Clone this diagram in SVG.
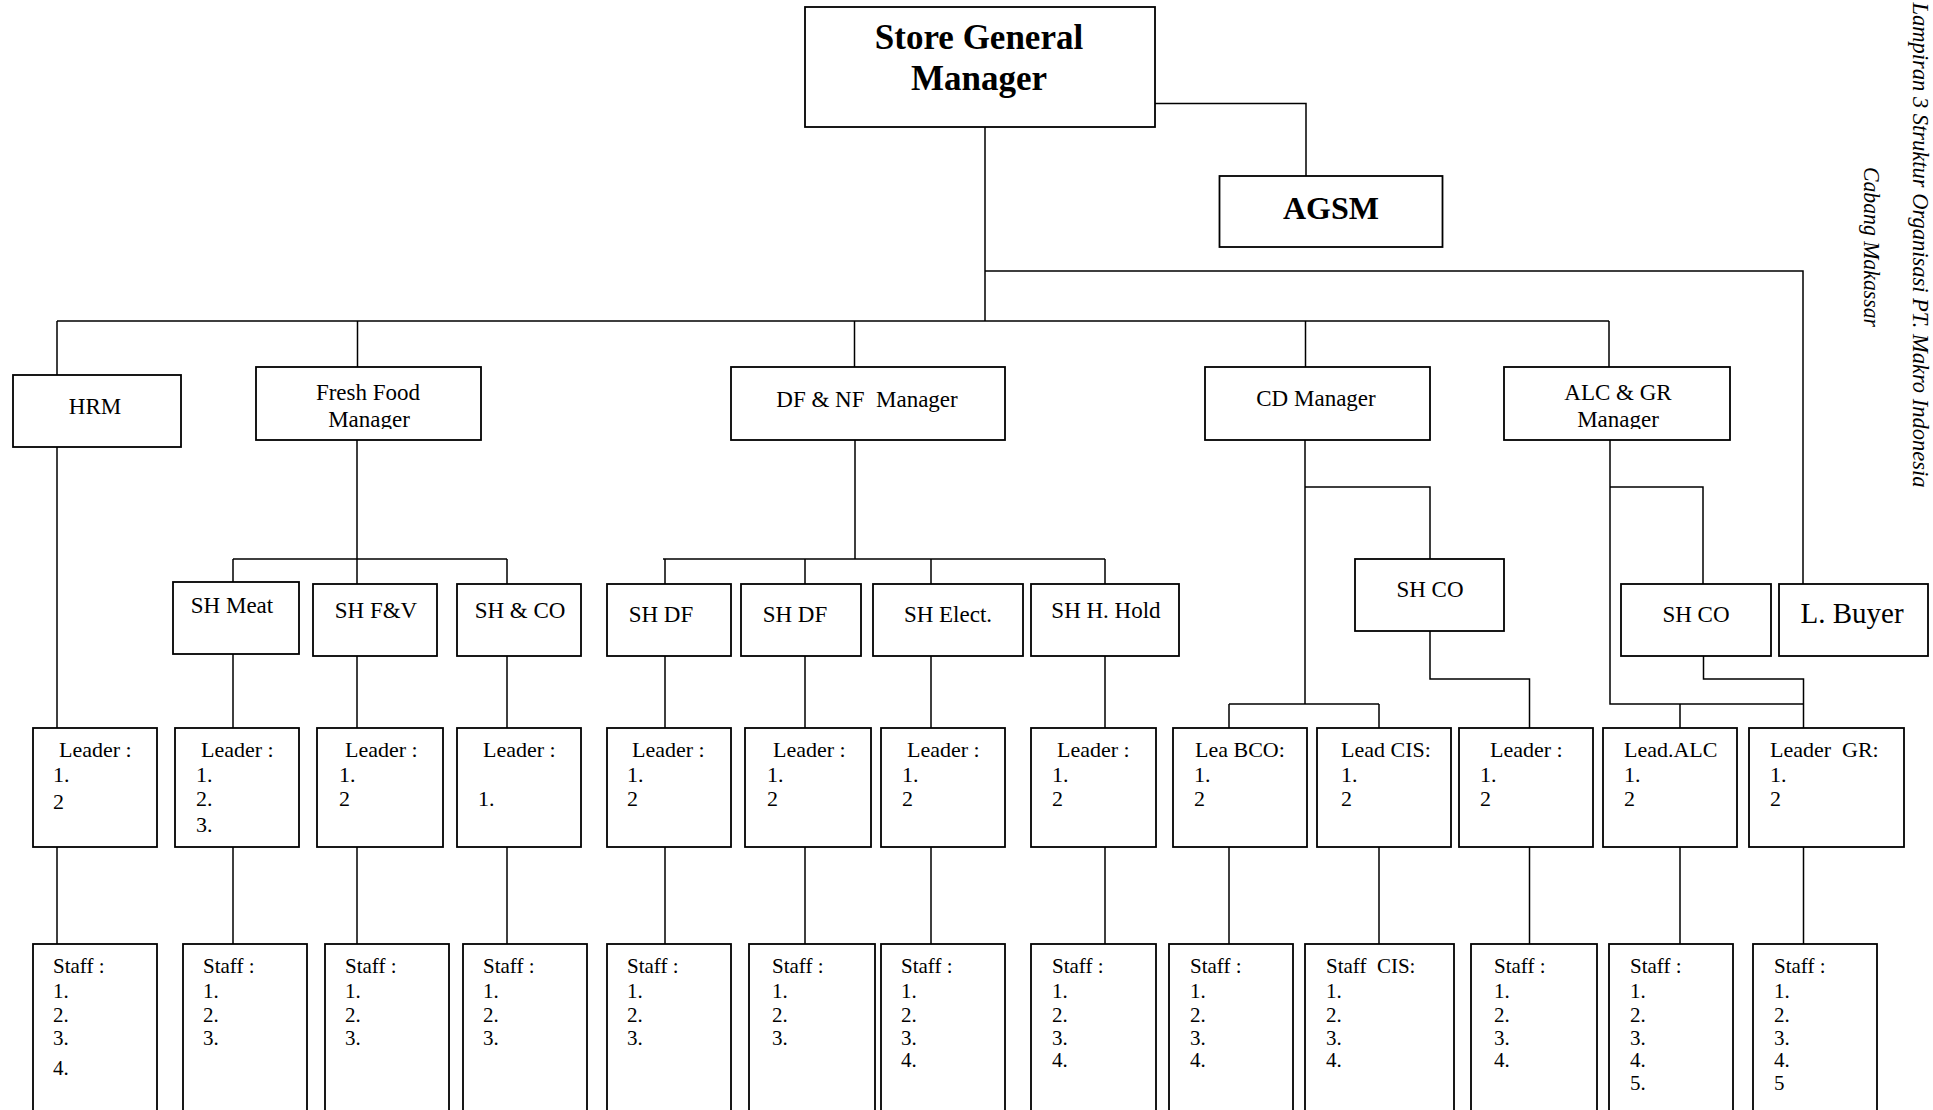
<svg xmlns="http://www.w3.org/2000/svg" width="1933" height="1110" viewBox="0 0 1933 1110">
<style>
.bx{fill:#fff;stroke:#000;stroke-width:1.8}
.cn{fill:none;stroke:#000;stroke-width:1.5}
text{font-family:"Liberation Serif","Times New Roman",serif;fill:#000;white-space:pre}
.c{text-anchor:middle}
.m{font-size:23px}
.sh{font-size:23px}
.l{font-size:22px}
.s{font-size:21px}
.b{font-weight:bold}
.rot{font-style:italic;font-size:24px}
</style>
<defs>
<clipPath id="clipFF"><rect x="256" y="367" width="225" height="62"/></clipPath>
<clipPath id="clipALC"><rect x="1504" y="367" width="226" height="62"/></clipPath>
</defs>
<rect width="1933" height="1110" fill="#fff"/>

<g id="connectors">
<path class="cn" d="M985 127V321M1155 103.5H1306V176M985 271H1803V584M57 321H1609M57 321V375M357.5 321V367M854.5 321V367M1305.5 321V367M1609 321V367"/>
<path class="cn" d="M57 447V728M357 440V559M233 559H507M233 559V582M357 559V584M507 559V584"/>
<path class="cn" d="M855 440V559M663 559H1105M665 559V584M805 559V584M931 559V584M1105 559V584"/>
<path class="cn" d="M1305 440V704M1229 704H1379M1229 704V728M1379 704V728M1305 487H1430V559M1430 631V679H1529.5V728"/>
<path class="cn" d="M1610 440V704H1803.5M1680 704V728M1610 487H1703V584M1703.5 656V679H1803.5V728"/>
<path class="cn" d="M233 654V728M357 656V728M507 656V728M665 656V728M805 656V728M931 656V728M1105 656V728"/>
<path class="cn" d="M57 847V944M233 847V944M357 847V944M507 847V944M665 847V944M805 847V944M931 847V944M1105 847V944M1229 847V944M1379 847V944M1529.5 847V944M1680 847V944M1803.5 847V944"/>
</g>

<g id="sgm"><rect class="bx" x="805" y="7" width="350" height="120"/>
<text class="b c" x="979" y="49" font-size="35">Store General</text>
<text class="b c" x="979" y="90" font-size="35">Manager</text></g>
<g id="agsm"><rect class="bx" x="1219.5" y="176" width="223" height="71"/>
<text class="b c" x="1331" y="219" font-size="32">AGSM</text></g>

<g id="hrm"><rect class="bx" x="13" y="375" width="168" height="72"/><text class="m c" x="95" y="414">HRM</text></g>
<g id="freshfood"><rect class="bx" x="256" y="367" width="225" height="73"/>
<g clip-path="url(#clipFF)"><text class="m c" x="368" y="400">Fresh Food</text><text class="m c" x="369" y="427">Manager</text></g></g>
<g id="dfnf"><rect class="bx" x="731" y="367" width="274" height="73"/><text class="m c" x="867" y="407">DF &amp; NF  Manager</text></g>
<g id="cd"><rect class="bx" x="1205" y="367" width="225" height="73"/><text class="m c" x="1316" y="406">CD Manager</text></g>
<g id="alcgr"><rect class="bx" x="1504" y="367" width="226" height="73"/>
<g clip-path="url(#clipALC)"><text class="m c" x="1618" y="400">ALC &amp; GR</text><text class="m c" x="1618" y="427">Manager</text></g></g>

<g id="shmeat"><rect class="bx" x="173" y="582" width="126" height="72"/><text class="sh c" x="232" y="613" font-size="22">SH Meat</text></g>
<g id="shfv"><rect class="bx" x="313" y="584" width="124" height="72"/><text class="sh c" x="376" y="618">SH F&amp;V</text></g>
<g id="shco1"><rect class="bx" x="457" y="584" width="124" height="72"/><text class="sh c" x="520" y="618">SH &amp; CO</text></g>
<g id="shdf1"><rect class="bx" x="607" y="584" width="124" height="72"/><text class="sh c" x="661" y="622">SH DF</text></g>
<g id="shdf2"><rect class="bx" x="741" y="584" width="120" height="72"/><text class="sh c" x="795" y="622">SH DF</text></g>
<g id="shelect"><rect class="bx" x="873" y="584" width="150" height="72"/><text class="sh c" x="948" y="622">SH Elect.</text></g>
<g id="shhhold"><rect class="bx" x="1031" y="584" width="148" height="72"/><text class="sh c" x="1106" y="618">SH H. Hold</text></g>
<g id="shcocd"><rect class="bx" x="1355" y="559" width="149" height="72"/><text class="sh c" x="1430" y="597">SH CO</text></g>
<g id="shcoalc"><rect class="bx" x="1621" y="584" width="150" height="72"/><text class="sh c" x="1696" y="622">SH CO</text></g>
<g id="lbuyer"><rect class="bx" x="1779" y="584" width="149" height="72"/><text class="c" x="1852" y="623" font-size="29">L. Buyer</text></g>

<g id="ld-hrm"><rect class="bx" x="33" y="728" width="124" height="119"/><text class="l" x="59" y="757">Leader :</text><text class="l" x="53" y="782">1.</text><text class="l" x="53" y="809">2</text></g>
<g id="ld-meat"><rect class="bx" x="175" y="728" width="124" height="119"/><text class="l" x="201" y="757">Leader :</text><text class="l" x="196" y="782">1.</text><text class="l" x="196" y="806">2.</text><text class="l" x="196" y="832">3.</text></g>
<g id="ld-fv"><rect class="bx" x="317" y="728" width="126" height="119"/><text class="l" x="345" y="757">Leader :</text><text class="l" x="339" y="782">1.</text><text class="l" x="339" y="806">2</text></g>
<g id="ld-co"><rect class="bx" x="457" y="728" width="124" height="119"/><text class="l" x="483" y="757">Leader :</text><text class="l" x="478" y="806">1.</text></g>
<g id="ld-df1"><rect class="bx" x="607" y="728" width="124" height="119"/><text class="l" x="632" y="757">Leader :</text><text class="l" x="627" y="782">1.</text><text class="l" x="627" y="806">2</text></g>
<g id="ld-df2"><rect class="bx" x="745" y="728" width="126" height="119"/><text class="l" x="773" y="757">Leader :</text><text class="l" x="767" y="782">1.</text><text class="l" x="767" y="806">2</text></g>
<g id="ld-elect"><rect class="bx" x="881" y="728" width="124" height="119"/><text class="l" x="907" y="757">Leader :</text><text class="l" x="902" y="782">1.</text><text class="l" x="902" y="806">2</text></g>
<g id="ld-hhold"><rect class="bx" x="1031" y="728" width="125" height="119"/><text class="l" x="1057" y="757">Leader :</text><text class="l" x="1052" y="782">1.</text><text class="l" x="1052" y="806">2</text></g>
<g id="ld-bco"><rect class="bx" x="1173" y="728" width="134" height="119"/><text class="l" x="1195" y="757">Lea BCO:</text><text class="l" x="1194" y="782">1.</text><text class="l" x="1194" y="806">2</text></g>
<g id="ld-cis"><rect class="bx" x="1317" y="728" width="134" height="119"/><text class="l" x="1341" y="757">Lead CIS:</text><text class="l" x="1341" y="782">1.</text><text class="l" x="1341" y="806">2</text></g>
<g id="ld-shco"><rect class="bx" x="1459" y="728" width="134" height="119"/><text class="l" x="1490" y="757">Leader :</text><text class="l" x="1480" y="782">1.</text><text class="l" x="1480" y="806">2</text></g>
<g id="ld-alc"><rect class="bx" x="1603" y="728" width="134" height="119"/><text class="l" x="1624" y="757">Lead.ALC</text><text class="l" x="1624" y="782">1.</text><text class="l" x="1624" y="806">2</text></g>
<g id="ld-gr"><rect class="bx" x="1749" y="728" width="155" height="119"/><text class="l" x="1770" y="757">Leader  GR:</text><text class="l" x="1770" y="782">1.</text><text class="l" x="1770" y="806">2</text></g>

<g id="st-hrm"><rect class="bx" x="33" y="944" width="124" height="180"/><text class="s" x="53" y="973">Staff :</text><text class="s" x="53" y="998">1.</text><text class="s" x="53" y="1022">2.</text><text class="s" x="53" y="1045">3.</text><text class="s" x="53" y="1075">4.</text></g>
<g id="st-meat"><rect class="bx" x="183" y="944" width="124" height="180"/><text class="s" x="203" y="973">Staff :</text><text class="s" x="203" y="998">1.</text><text class="s" x="203" y="1022">2.</text><text class="s" x="203" y="1045">3.</text></g>
<g id="st-fv"><rect class="bx" x="325" y="944" width="124" height="180"/><text class="s" x="345" y="973">Staff :</text><text class="s" x="345" y="998">1.</text><text class="s" x="345" y="1022">2.</text><text class="s" x="345" y="1045">3.</text></g>
<g id="st-co"><rect class="bx" x="463" y="944" width="124" height="180"/><text class="s" x="483" y="973">Staff :</text><text class="s" x="483" y="998">1.</text><text class="s" x="483" y="1022">2.</text><text class="s" x="483" y="1045">3.</text></g>
<g id="st-df1"><rect class="bx" x="607" y="944" width="124" height="180"/><text class="s" x="627" y="973">Staff :</text><text class="s" x="627" y="998">1.</text><text class="s" x="627" y="1022">2.</text><text class="s" x="627" y="1045">3.</text></g>
<g id="st-df2"><rect class="bx" x="749" y="944" width="126" height="180"/><text class="s" x="772" y="973">Staff :</text><text class="s" x="772" y="998">1.</text><text class="s" x="772" y="1022">2.</text><text class="s" x="772" y="1045">3.</text></g>
<g id="st-elect"><rect class="bx" x="881" y="944" width="124" height="180"/><text class="s" x="901" y="973">Staff :</text><text class="s" x="901" y="998">1.</text><text class="s" x="901" y="1022">2.</text><text class="s" x="901" y="1045">3.</text><text class="s" x="901" y="1067">4.</text></g>
<g id="st-hhold"><rect class="bx" x="1031" y="944" width="125" height="180"/><text class="s" x="1052" y="973">Staff :</text><text class="s" x="1052" y="998">1.</text><text class="s" x="1052" y="1022">2.</text><text class="s" x="1052" y="1045">3.</text><text class="s" x="1052" y="1067">4.</text></g>
<g id="st-bco"><rect class="bx" x="1169" y="944" width="124" height="180"/><text class="s" x="1190" y="973">Staff :</text><text class="s" x="1190" y="998">1.</text><text class="s" x="1190" y="1022">2.</text><text class="s" x="1190" y="1045">3.</text><text class="s" x="1190" y="1067">4.</text></g>
<g id="st-cis"><rect class="bx" x="1305" y="944" width="149" height="180"/><text class="s" x="1326" y="973">Staff  CIS:</text><text class="s" x="1326" y="998">1.</text><text class="s" x="1326" y="1022">2.</text><text class="s" x="1326" y="1045">3.</text><text class="s" x="1326" y="1067">4.</text></g>
<g id="st-shco"><rect class="bx" x="1471" y="944" width="126" height="180"/><text class="s" x="1494" y="973">Staff :</text><text class="s" x="1494" y="998">1.</text><text class="s" x="1494" y="1022">2.</text><text class="s" x="1494" y="1045">3.</text><text class="s" x="1494" y="1067">4.</text></g>
<g id="st-alc"><rect class="bx" x="1609" y="944" width="124" height="180"/><text class="s" x="1630" y="973">Staff :</text><text class="s" x="1630" y="998">1.</text><text class="s" x="1630" y="1022">2.</text><text class="s" x="1630" y="1045">3.</text><text class="s" x="1630" y="1067">4.</text><text class="s" x="1630" y="1090">5.</text></g>
<g id="st-gr"><rect class="bx" x="1753" y="944" width="124" height="180"/><text class="s" x="1774" y="973">Staff :</text><text class="s" x="1774" y="998">1.</text><text class="s" x="1774" y="1022">2.</text><text class="s" x="1774" y="1045">3.</text><text class="s" x="1774" y="1067">4.</text><text class="s" x="1774" y="1090">5</text></g>

<g id="caption">
<text class="rot c" transform="translate(1913,245) rotate(90)" textLength="485" lengthAdjust="spacingAndGlyphs">Lampiran 3 Struktur Organisasi PT. Makro Indonesia</text>
<text class="rot c" transform="translate(1864,247) rotate(90)" textLength="160" lengthAdjust="spacingAndGlyphs">Cabang Makassar</text>
</g>
</svg>
